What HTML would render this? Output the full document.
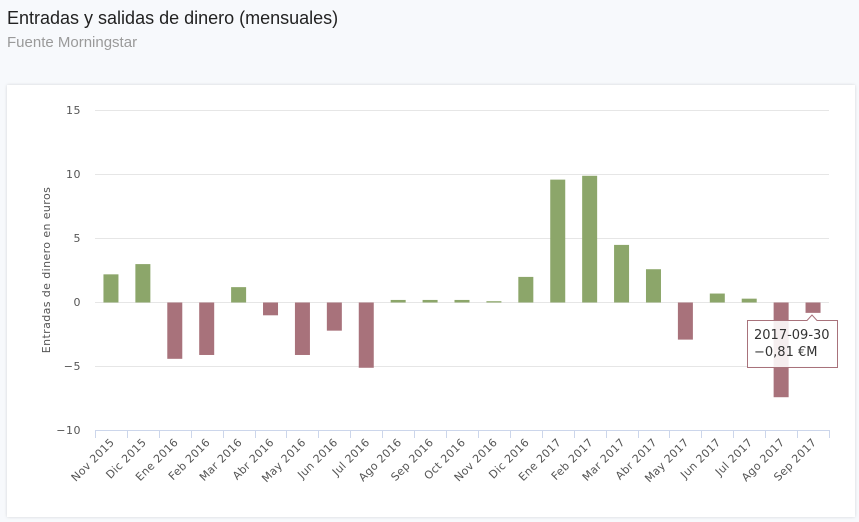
<!DOCTYPE html>
<html><head><meta charset="utf-8"><style>
body{margin:0;width:859px;height:522px;background:#f7f9fc;font-family:"Liberation Sans",sans-serif;overflow:hidden;position:relative}
.t{position:absolute;left:7px;top:8px;font-size:18px;color:#222}
.s{position:absolute;left:7px;top:34px;font-size:15px;color:#9a9a9a}
.card{position:absolute;left:7px;top:85px;width:848px;height:432px;background:#fff;box-shadow:0 0 3px rgba(0,0,0,.15)}
svg{position:absolute;left:0;top:0}
</style></head><body>
<div class="t">Entradas y salidas de dinero (mensuales)</div>
<div class="s">Fuente Morningstar</div>
<div class="card"></div>
<svg width="859" height="522" font-family="DejaVu Sans, sans-serif">
<g stroke="#e6e6e6" stroke-width="1">
<line x1="95" x2="829" y1="110.5" y2="110.5"/><line x1="95" x2="829" y1="174.5" y2="174.5"/>
<line x1="95" x2="829" y1="238.5" y2="238.5"/><line x1="95" x2="829" y1="302.5" y2="302.5"/>
<line x1="95" x2="829" y1="366.5" y2="366.5"/>
</g>
<line x1="95" x2="829" y1="430.5" y2="430.5" stroke="#ccd6eb"/>
<g font-size="11" fill="#555" text-anchor="end" letter-spacing="0.5">
<text x="81" y="114">15</text><text x="81" y="178">10</text><text x="81" y="242">5</text>
<text x="81" y="306">0</text><text x="81" y="370">−5</text><text x="81" y="434">−10</text>
</g>
<text transform="translate(50,270) rotate(-90)" font-size="11" fill="#555" text-anchor="middle" letter-spacing="0.4">Entradas de dinero en euros</text>
<g id="bars"></g>
<g id="ticks" stroke="#ccd6eb"></g>
<g id="labels" font-size="11" fill="#555" text-anchor="end" letter-spacing="0.3"></g>
<g>
<path d="M747.5 320.5 H807 L812 315 L817 320.5 H837.5 V367.5 H747.5 Z" fill="#fff" fill-opacity="0.88" stroke="#a8727b"/>
<text x="754" y="339" font-size="13" fill="#333">2017-09-30</text>
<text x="754" y="356" font-size="13" fill="#333">−0,81 €M</text>
</g>
</svg>
<script>
var v=[2.2,3.0,-4.4,-4.1,1.2,-1.0,-4.1,-2.2,-5.1,0.2,0.2,0.2,0.1,2.0,9.6,9.9,4.5,2.6,-2.9,0.7,0.3,-7.4,-0.81];
var n=["Nov 2015","Dic 2015","Ene 2016","Feb 2016","Mar 2016","Abr 2016","May 2016","Jun 2016","Jul 2016","Ago 2016","Sep 2016","Oct 2016","Nov 2016","Dic 2016","Ene 2017","Feb 2017","Mar 2017","Abr 2017","May 2017","Jun 2017","Jul 2017","Ago 2017","Sep 2017"];
var w=(829-95)/23,b="",t="",l="";
for(var i=0;i<23;i++){var c=95+w*(i+0.5),h=Math.abs(v[i])*12.8,y=v[i]>=0?302.5-h:302.5;
b+='<rect x="'+(c-7.5)+'" y="'+y+'" width="15" height="'+h+'" fill="'+(v[i]>=0?'#8ca66a':'#a8727b')+'"/>';
var tx=Math.round(95+w*i)+0.5;t+='<line x1="'+tx+'" x2="'+tx+'" y1="430" y2="438"/>';
l+='<text transform="translate('+(c+4)+',443) rotate(-45)">'+n[i]+'</text>';}
t+='<line x1="829.5" x2="829.5" y1="430" y2="438"/>';
document.getElementById("bars").innerHTML=b;document.getElementById("ticks").innerHTML=t;document.getElementById("labels").innerHTML=l;
</script>
</body></html>
